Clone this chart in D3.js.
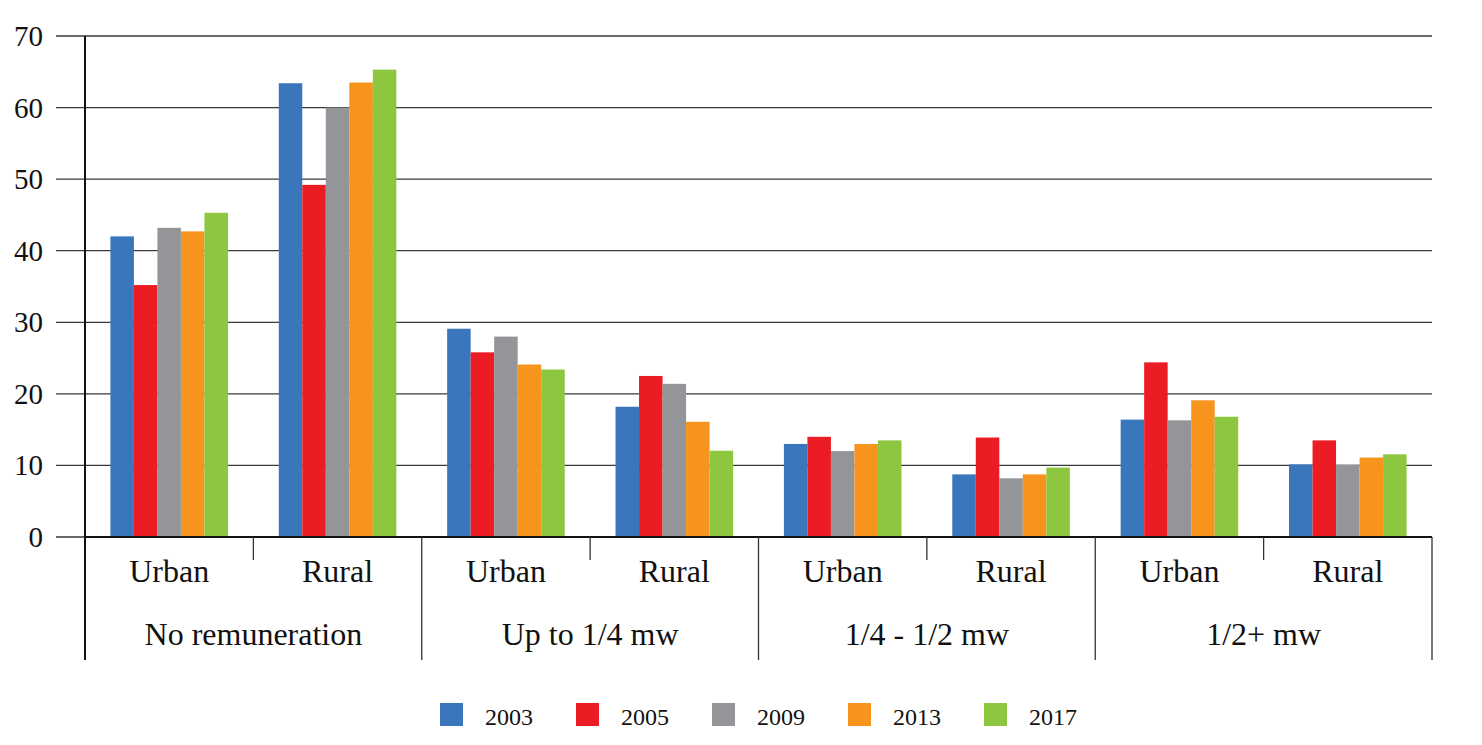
<!DOCTYPE html>
<html>
<head>
<meta charset="utf-8">
<script src="https://cdnjs.cloudflare.com/ajax/libs/d3/7.8.5/d3.min.js"></script>
<style>
  body { margin: 0; background: #fff; }
  svg text { font-family: "Liberation Serif", "DejaVu Serif", serif; fill: #111; }
</style>
</head>
<body>
<svg id="vis" width="1482" height="745"></svg>
<script>
// categories and series
var categories = ["No remuneration", "Up to 1/4 mw", "1/4 - 1/2 mw", "1/2+ mw"];
var areas = ["Urban", "Rural"];
var years = ["2003", "2005", "2009", "2013", "2017"];
var colors = ["#3a76bb", "#ec1c24", "#939598", "#f7941d", "#8dc63f"];
var yTicks = [0, 10, 20, 30, 40, 50, 60, 70];

// one array per year, in order: NR urban, NR rural, 1/4 urban, 1/4 rural, ...
var v2003 = [42.0, 63.4, 29.1, 18.2, 13.0, 8.75, 16.4, 10.15];
var v2005 = [35.2, 49.2, 25.8, 22.5, 14.0, 13.9, 24.4, 13.5];
var v2009 = [43.2, 60.0, 28.0, 21.4, 12.0, 8.2, 16.3, 10.1];
var v2013 = [42.7, 63.5, 24.1, 16.1, 13.0, 8.75, 19.1, 11.1];
var v2017 = [45.3, 65.3, 23.4, 12.05, 13.5, 9.7, 16.8, 11.55];
var series = [v2003, v2005, v2009, v2013, v2017];

var margin = {t: 36, l: 85, r: 50, b: 208};
var width = 1482 - margin.l - margin.r;
var height = 745 - margin.t - margin.b;

var svg = d3.select('#vis');
var g = svg.append('g').attr('transform', 'translate(' + margin.l + ',' + margin.t + ')');

// subgroup keys
var groups = [];
categories.forEach(function (c, i) {
    areas.forEach(function (a) { groups.push({cat: c, area: a, key: i + '-' + a}); });
});

var x0 = d3.scaleBand().domain(groups.map(function (d) { return d.key; })).range([0, width]).padding(0);
var x1 = d3.scaleBand().domain(years).range([0, x0.bandwidth()]).paddingInner(0).paddingOuter(1.08);
var y = d3.scaleLinear().domain([0, 70]).range([height, 0]);

// gridlines with left tick stub
g.append('g')
    .selectAll('line')
    .data(yTicks)
    .enter().append('line')
    .attr('x1', -29).attr('x2', width)
    .attr('y1', function (d) { return y(d); })
    .attr('y2', function (d) { return y(d); })
    .attr('stroke', '#3a3a3a')
    .attr('stroke-width', 1.3);

g.append('g')
    .selectAll('text')
    .data(yTicks)
    .enter().append('text')
    .attr('x', -42)
    .attr('y', function (d) { return y(d) + 10; })
    .style('text-anchor', 'end')
    .style('font-size', '29px')
    .text(function (d) { return d; });

// bars
var bars = g.selectAll('.grp')
    .data(groups)
    .enter().append('g')
    .attr('class', 'grp')
    .attr('transform', function (d) { return 'translate(' + x0(d.key) + ',0)'; });

bars.selectAll('rect')
    .data(function (d, gi) {
        return years.map(function (yr, si) { return {year: yr, si: si, value: series[si][gi]}; });
    })
    .enter().append('rect')
    .attr('x', function (d) { return x1(d.year); })
    .attr('y', function (d) { return y(d.value); })
    .attr('width', x1.bandwidth())
    .attr('height', function (d) { return height - y(d.value); })
    .attr('fill', function (d) { return colors[d.si]; });

// axes lines
g.append('line')
    .attr('x1', 0).attr('x2', 0).attr('y1', 0).attr('y2', height + 123)
    .attr('stroke', '#111').attr('stroke-width', 2);
g.append('line')
    .attr('x1', 0).attr('x2', width).attr('y1', height).attr('y2', height)
    .attr('stroke', '#111').attr('stroke-width', 2);

// subgroup ticks and labels
var catWidth = x0.bandwidth() * 2;
groups.forEach(function (d, i) {
    if (i % 2 === 1) {
        g.append('line')
            .attr('x1', x0(d.key)).attr('x2', x0(d.key))
            .attr('y1', height).attr('y2', height + 23)
            .attr('stroke', '#333').attr('stroke-width', 1.3);
    }
    g.append('text')
        .attr('x', x0(d.key) + x0.bandwidth() / 2)
        .attr('y', height + 45)
        .style('text-anchor', 'middle')
        .style('font-size', '32px')
        .text(d.area);
});

categories.forEach(function (c, i) {
    var cx = x0(i + '-Urban');
    g.append('line')
        .attr('x1', cx + catWidth).attr('x2', cx + catWidth)
        .attr('y1', height).attr('y2', height + 123)
        .attr('stroke', '#333').attr('stroke-width', 1.3);
    g.append('text')
        .attr('x', cx + catWidth / 2)
        .attr('y', height + 108)
        .style('text-anchor', 'middle')
        .style('font-size', '32px')
        .text(c);
});

// legend
var legend = svg.append('g').attr('transform', 'translate(440,703)');
var item = legend.selectAll('g')
    .data(years)
    .enter().append('g')
    .attr('transform', function (d, i) { return 'translate(' + (i * 136) + ',0)'; });
item.append('rect')
    .attr('width', 23).attr('height', 23)
    .attr('fill', function (d, i) { return colors[i]; });
item.append('text')
    .attr('x', 45).attr('y', 22)
    .style('font-size', '24px')
    .text(function (d) { return d; });
</script>
</body>
</html>
